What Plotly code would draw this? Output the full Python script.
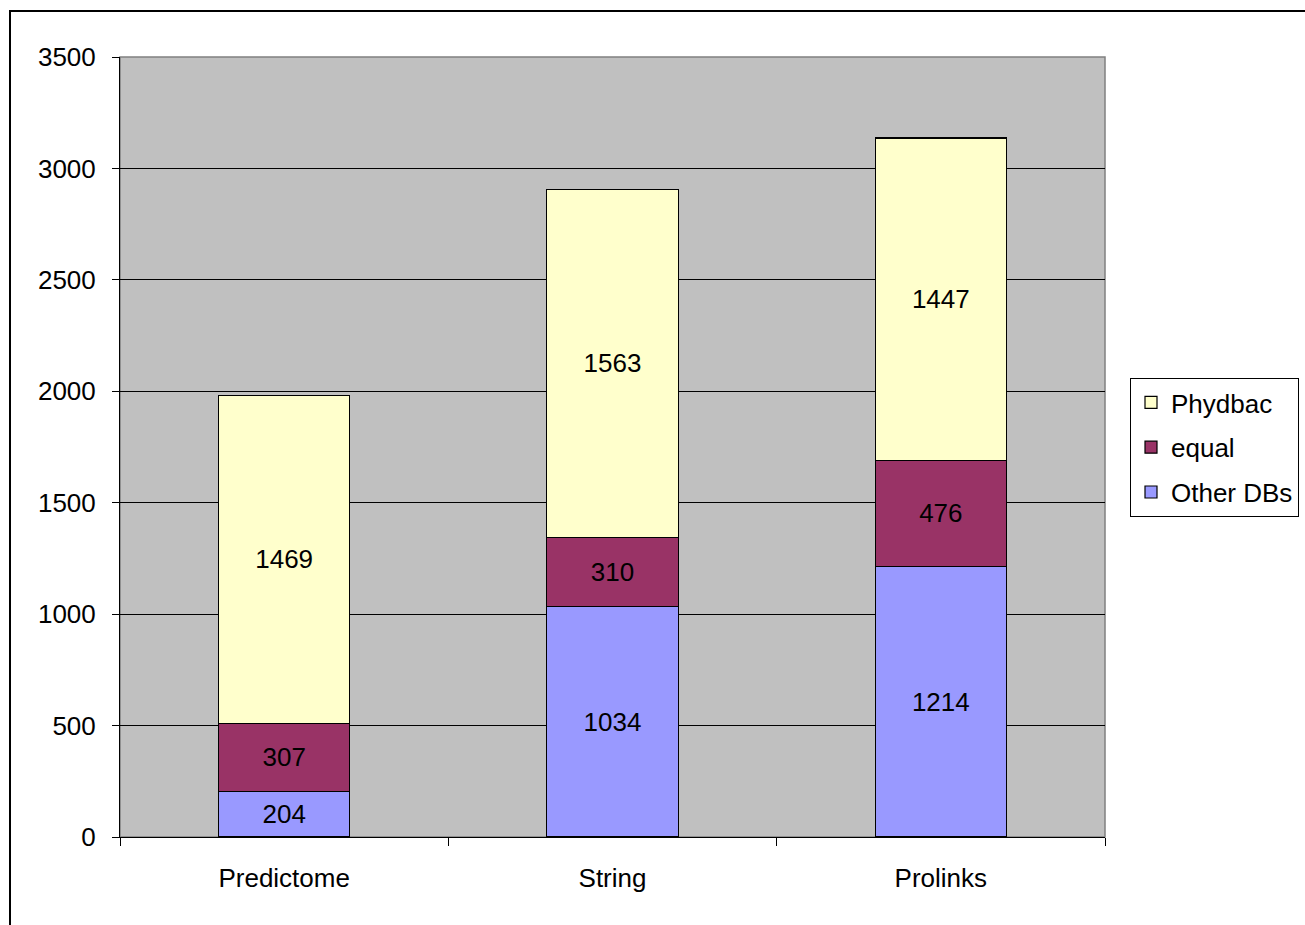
import plotly.graph_objects as go

categories = ["Predictome", "String", "Prolinks"]
other_dbs = [204, 1034, 1214]
equal = [307, 310, 476]
phydbac = [1469, 1563, 1447]
y_ticks = [0, 500, 1000, 1500, 2000, 2500, 3000, 3500]

FONT = "Liberation Sans, Arial, sans-serif"
FS = 26
L, R, T, B = 120, 1105, 57, 837
W, H = 1305, 925

fig = go.Figure()
series = [("Other DBs", other_dbs, "#9999FF", 3), ("equal", equal, "#993366", 2), ("Phydbac", phydbac, "#FFFFCC", 1)]
for name, vals, col, rank in series:
    fig.add_trace(go.Bar(
        x=categories, y=vals, name=name, legendgroup=name, legendrank=rank,
        text=[str(v) for v in vals],
        textposition="inside", insidetextanchor="middle", textangle=0,
        textfont=dict(color="black", size=FS, family=FONT),
        marker=dict(color=col, line=dict(color="black", width=1.2)),
        width=0.4,
    ))

def px_x(p):
    return (p - L) / (R - L)

def px_y(p):
    return (B - p) / (B - T)

fig.update_layout(
    width=W, height=H,
    margin=dict(l=L, r=W - R, t=T, b=H - B, pad=0, autoexpand=False),
    barmode="stack",
    paper_bgcolor="white", plot_bgcolor="#C0C0C0",
    font=dict(family=FONT, size=FS, color="black"),
    uniformtext=dict(mode=False),
    legend=dict(
        x=px_x(1130), y=px_y(378), xanchor="left", yanchor="top",
        traceorder="grouped", bordercolor="black", borderwidth=1,
        bgcolor="white", font=dict(size=FS, family=FONT),
        itemwidth=30, tracegroupgap=8,
    ),
    xaxis=dict(
        type="category", tickson="boundaries", ticks="outside", ticklen=8,
        tickcolor="black", showline=True, linecolor="black", linewidth=1,
        showgrid=False, ticklabelstandoff=18, range=[-0.5, 2.5],
    ),
    yaxis=dict(
        range=[0, 3500], tickvals=y_ticks, ticks="outside", ticklen=7,
        tickcolor="black", showline=True, linecolor="black", linewidth=1,
        showgrid=True, gridcolor="black", gridwidth=1, zeroline=False,
        ticklabelstandoff=11,
    ),
    showlegend=True,
)

# plot-area border (top/right gray)
fig.add_shape(type="rect", xref="paper", yref="paper", x0=0, x1=1, y0=0, y1=1,
              line=dict(color="#808080", width=1.5), layer="below")
# outer chart border
fig.add_shape(type="rect", xref="paper", yref="paper",
              x0=px_x(10), x1=px_x(1320), y0=px_y(940), y1=px_y(11),
              line=dict(color="black", width=2), fillcolor="rgba(0,0,0,0)", layer="above")

fig.write_html("out.html")
